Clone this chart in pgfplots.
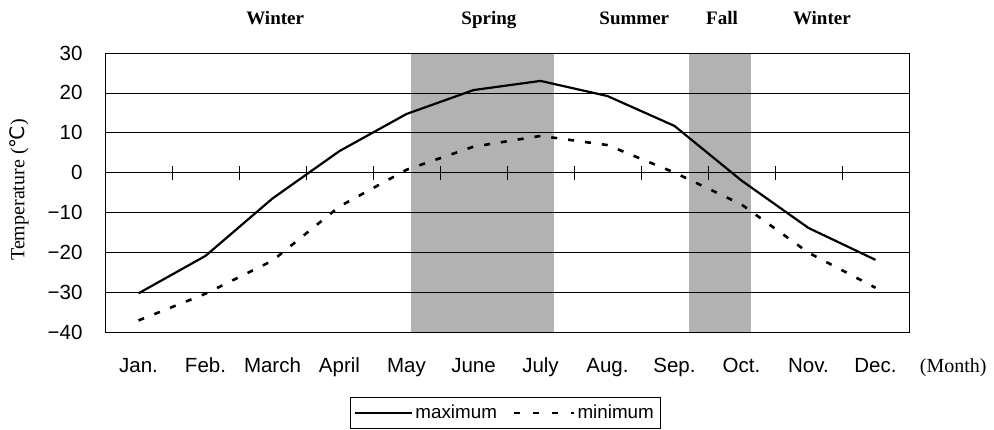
\documentclass[border=0pt]{standalone}
\usepackage{fontspec}
\setmainfont{Liberation Serif}
\newfontfamily\sansf{Liberation Sans}
\newfontfamily\djv{DejaVu Sans}
\usepackage{pgfplots}
\pgfplotsset{compat=1.18}
\definecolor{shade}{RGB}{178,178,178}
\begin{document}
\begin{tikzpicture}
\begin{axis}[
 at={(105pt,97pt)}, anchor=south west,
 width=804pt, height=279pt, scale only axis,
 set layers=standard,
 xmin=-0.5, xmax=11.5, ymin=-40, ymax=30,
 xtick={0,...,11},
 xticklabels={Jan.,Feb.,March,April,May,June,July,Aug.,Sep.,Oct.,Nov.,Dec.},
 ytick={-40,-30,...,30},
 yticklabels={−40,−30,−20,−10,0,10,20,30},
 major tick length=0pt,
 ymajorgrids, grid style={black, line width=0.7pt},
 axis line style={black, line width=0.8pt},
 ticklabel style={font=\sansf\fontsize{20.5}{24}\selectfont},
 xticklabel style={anchor=base, yshift=-40pt},
 yticklabel style={xshift=-19pt},
 clip=false,
 no markers,
 legend columns=2,
 legend style={at={(0.3047,-0.233)}, anchor=north west, draw=black, line width=0.6pt,
   font=\sansf\fontsize{18.8}{22}\selectfont, inner xsep=4pt, inner ysep=6pt,
   /tikz/every even column/.append style={column sep=14pt}},
 legend image code/.code={\draw[#1] (0pt,0pt) -- (57pt,0pt);},
]
\addplot[fill=shade, draw=none, on layer=axis background, forget plot] coordinates {(4.07,-40) (6.2,-40) (6.2,30) (4.07,30)} --cycle;
\addplot[fill=shade, draw=none, on layer=axis background, forget plot] coordinates {(8.22,-40) (9.14,-40) (9.14,30) (8.22,30)} --cycle;

\addplot[black, line width=2.2pt] coordinates {
(0,-30.3) (1,-20.9) (2,-6.5) (3,5.4) (4,14.7) (5,20.7) (6,23) (7,19.2) (8,11.7) (9,-2) (10,-13.9) (11,-21.9)};
\addlegendentry{maximum}
\addplot[black, line width=2.6pt, dash pattern=on 6pt off 11pt,
  legend image code/.code={\draw[black, line width=2.6pt, dash pattern=on 6pt off 13pt] (0pt,0pt) -- (60pt,0pt);}] coordinates {
(0,-37.1) (1,-30.4) (2,-22.1) (3,-8.5) (4,0.7) (5,6.5) (6,9.2) (7,6.9) (8,0) (9,-8) (10,-20.1) (11,-28.9)};
\addlegendentry{minimum}

\pgfplotsinvokeforeach{0.5,1.5,...,10.5}{\draw[line width=0.8pt] (axis cs:#1,-1.75) -- (axis cs:#1,1.75);}

\node[font=\bfseries\fontsize{19}{22}\selectfont, anchor=base, yshift=29pt] at (axis cs:2.04,30) {Winter};
\node[font=\bfseries\fontsize{19}{22}\selectfont, anchor=base, yshift=29pt] at (axis cs:5.23,30) {Spring};
\node[font=\bfseries\fontsize{19}{22}\selectfont, anchor=base, yshift=29pt] at (axis cs:7.4,30) {Summer};
\node[font=\bfseries\fontsize{19}{22}\selectfont, anchor=base, yshift=29pt] at (axis cs:8.71,30) {Fall};
\node[font=\bfseries\fontsize{19}{22}\selectfont, anchor=base, yshift=29pt] at (axis cs:10.2,30) {Winter};
\node[font=\fontsize{20}{24}\selectfont, anchor=base, yshift=-40pt] at (axis cs:12.16,-40) {(Month)};
\end{axis}
\node[rotate=90, font=\fontsize{20}{24}\selectfont] at (19pt,239pt) {Temperature ({\djv ℃})};
\pgfresetboundingbox
\path (0,0) rectangle (994pt,429pt);
\end{tikzpicture}
\end{document}
